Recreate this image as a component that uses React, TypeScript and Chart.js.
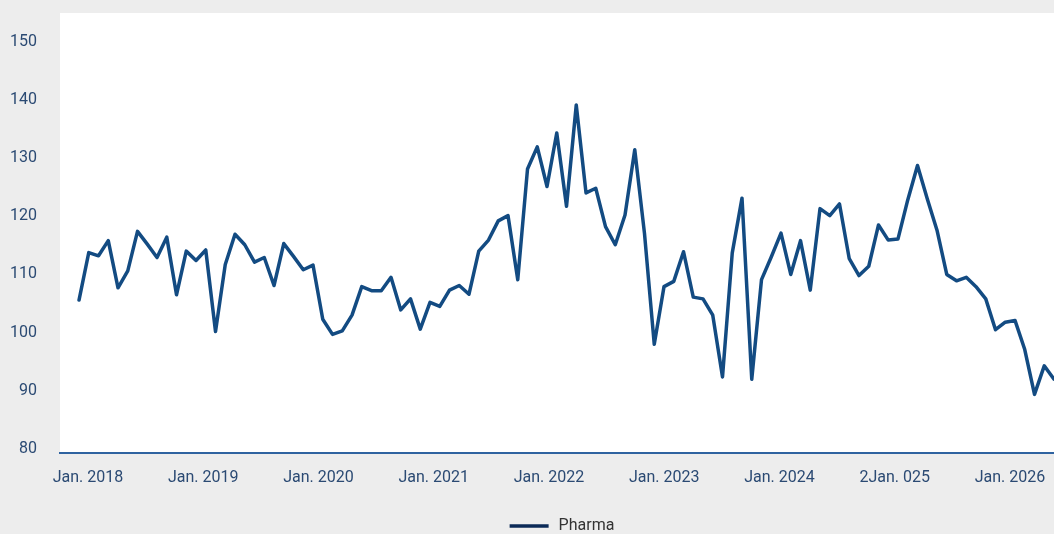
import React, { useEffect, useRef } from "react";
import { Chart, registerables } from "chart.js";

Chart.register(...registerables);

const SERIES_NAME = "Pharma";

// monthly index values, one per point
const VALUES = [
  105.6, 113.75, 113.2, 115.8, 107.7, 110.6, 117.4, 115.2, 112.9, 116.4,
  106.5, 114.0, 112.4, 114.2, 100.2, 111.7, 116.9, 115.1, 112.1, 112.9,
  108.1, 115.3, 113.1, 110.8, 111.6, 102.3, 99.7, 100.3, 103.0, 107.9,
  107.2, 107.2, 109.5, 103.9, 105.8, 100.6, 105.2, 104.5, 107.3, 108.1,
  106.6, 114.0, 115.9, 119.2, 120.1, 109.1, 128.1, 131.9, 125.1, 134.3,
  121.7, 139.1, 124.0, 124.8, 118.2, 115.1, 120.2, 131.4, 117.0, 98.0,
  107.9, 108.8, 113.9, 106.1, 105.8, 103.0, 92.4, 113.7, 123.1, 92.0,
  109.1, 113.0, 117.1, 110.0, 115.8, 107.3, 121.3, 120.1, 122.1, 112.7,
  109.8, 111.4, 118.5, 115.9, 116.1, 122.8, 128.7, 123.0, 117.6, 110.0,
  108.9, 109.5, 107.9, 105.8, 100.5, 101.8, 102.1, 97.1, 89.4, 94.3,
  92.0,
];

// where the year labels sit along the point index axis
const TICK_POSITIONS = [0.92, 12.74, 24.56, 36.38, 48.2, 60.02, 71.84, 83.66, 95.48];
const TICK_LABELS = [
  "Jan. 2018",
  "Jan. 2019",
  "Jan. 2020",
  "Jan. 2021",
  "Jan. 2022",
  "Jan. 2023",
  "Jan. 2024",
  "2Jan. 025",
  "Jan. 2026",
];
const Y_TICKS = [80, 90, 100, 110, 120, 130, 140, 150];

const FONT_FAMILY = "Roboto, 'DejaVu Sans', sans-serif";
const TICK_COLOR = "#2b4a73";
const LINE_COLOR = "#134b82";
const LEGEND_LINE_COLOR = "#0b2a57";
const LEGEND_TEXT_COLOR = "#333333";

export default function App() {
  const ref = useRef<HTMLCanvasElement>(null);

  useEffect(() => {
    if (!ref.current) return;

    const background = {
      id: "background",
      beforeDraw(chart: any) {
        const { ctx, chartArea: a } = chart;
        ctx.save();
        ctx.fillStyle = "#ededed";
        ctx.fillRect(0, 0, chart.width, chart.height);
        ctx.fillStyle = "#ffffff";
        ctx.fillRect(a.left, a.top, a.right - a.left, a.bottom - a.top);
        ctx.restore();
      },
    };

    const bottomLegend = {
      id: "bottomLegend",
      afterDraw(chart: any) {
        const { ctx, chartArea: a } = chart;
        ctx.save();
        ctx.font = `16px ${FONT_FAMILY}`;
        const textW = ctx.measureText(SERIES_NAME).width;
        const lineW = 39;
        const gap = 10;
        const total = lineW + gap + textW;
        const cx = (a.left + a.right) / 2 + 5;
        const x0 = cx - total / 2;
        const y = chart.height - 8;
        ctx.strokeStyle = LEGEND_LINE_COLOR;
        ctx.lineWidth = 3.5;
        ctx.beginPath();
        ctx.moveTo(x0, y);
        ctx.lineTo(x0 + lineW, y);
        ctx.stroke();
        ctx.fillStyle = LEGEND_TEXT_COLOR;
        ctx.textBaseline = "middle";
        ctx.textAlign = "left";
        ctx.fillText(SERIES_NAME, x0 + lineW + gap, y);
        ctx.restore();
      },
    };

    const chart = new Chart(ref.current, {
      type: "line",
      data: {
        datasets: [
          {
            label: SERIES_NAME,
            data: VALUES.map((y, i) => ({ x: i, y })),
            borderColor: LINE_COLOR,
            backgroundColor: LINE_COLOR,
            borderWidth: 3.5,
            pointRadius: 0,
            tension: 0,
            borderJoinStyle: "round",
            borderCapStyle: "round",
          },
        ],
      },
      options: {
        animation: false,
        responsive: false,
        maintainAspectRatio: false,
        layout: { padding: { top: 13, left: 0, right: 0, bottom: 0 } },
        plugins: {
          legend: { display: false },
          tooltip: { enabled: false },
        },
        scales: {
          x: {
            type: "linear",
            min: -1.95,
            max: 100,
            grid: { display: false, drawTicks: false },
            border: { display: true, color: "#2f63a0", width: 2 },
            afterBuildTicks: (s: any) => {
              s.ticks = TICK_POSITIONS.map((v) => ({ value: v }));
            },
            afterFit: (s: any) => {
              s.height = 81;
              s.paddingLeft = 0;
              s.paddingRight = 0;
            },
            ticks: {
              autoSkip: false,
              maxRotation: 0,
              minRotation: 0,
              padding: 15,
              color: TICK_COLOR,
              font: { family: FONT_FAMILY, size: 16 },
              callback: (_v: any, i: number) => TICK_LABELS[i],
            },
          },
          y: {
            min: 79.33,
            max: 154.9,
            grid: { display: false, drawTicks: false },
            border: { display: false },
            afterBuildTicks: (s: any) => {
              s.ticks = Y_TICKS.map((v) => ({ value: v }));
            },
            afterFit: (s: any) => {
              s.width = 60;
              s.paddingTop = 0;
              s.paddingBottom = 0;
            },
            ticks: {
              padding: 23,
              color: TICK_COLOR,
              font: { family: FONT_FAMILY, size: 16 },
            },
          },
        },
      },
      plugins: [background, bottomLegend],
    });

    return () => chart.destroy();
  }, []);

  return (
    <div
      style={{
        position: "fixed",
        left: 0,
        top: 0,
        width: 1054,
        height: 534,
        background: "#ededed",
      }}
    >
      <canvas
        ref={ref}
        width={1054}
        height={534}
        style={{ display: "block", width: 1054, height: 534 }}
      />
    </div>
  );
}
